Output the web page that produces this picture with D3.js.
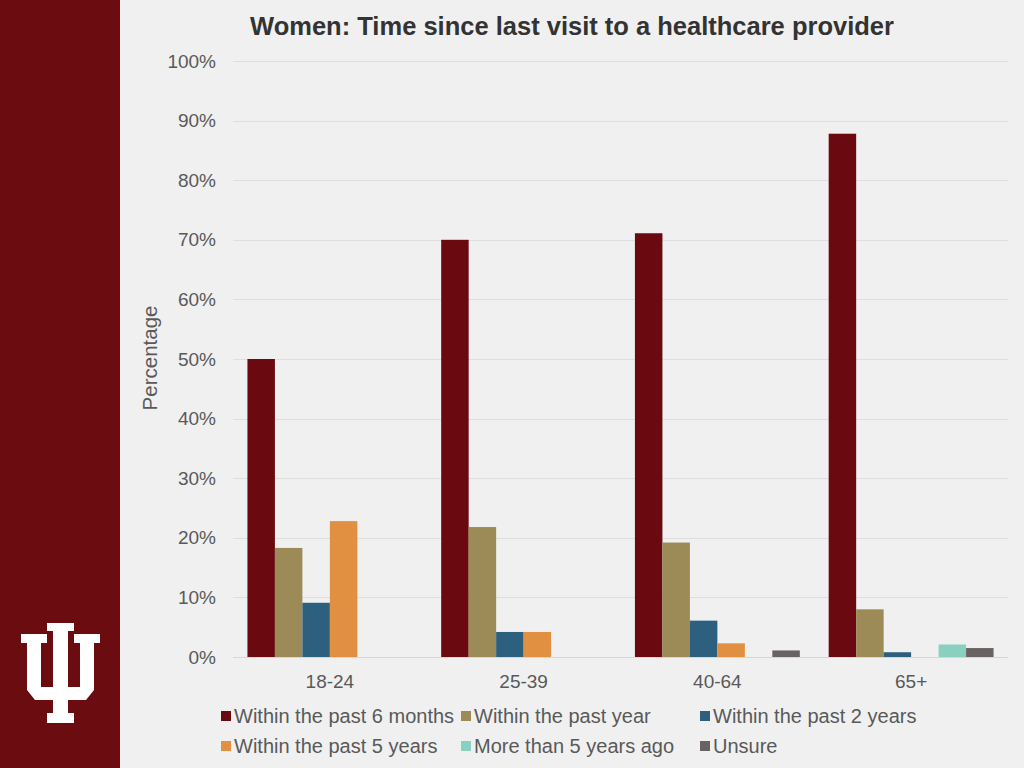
<!DOCTYPE html>
<html><head><meta charset="utf-8">
<script src="https://cdn.jsdelivr.net/npm/d3@7"></script>
<style>html,body{margin:0;padding:0;background:#f0f0f0;}svg{display:block;font-family:"Liberation Sans",Arial,sans-serif;}</style>
</head><body>
<svg id="c" width="1024" height="768"></svg>
<script>
const categories = ["18-24", "25-39", "40-64", "65+"];
const seriesNames = ["Within the past 6 months", "Within the past year", "Within the past 2 years", "Within the past 5 years", "More than 5 years ago", "Unsure"];
const s6months = [50.0, 70.0, 71.1, 87.8];
const sYear = [18.3, 21.8, 19.2, 8.0];
const s2years = [9.1, 4.2, 6.1, 0.8];
const s5years = [22.8, 4.2, 2.3, 0];
const sMore5 = [0, 0, 0, 2.1];
const sUnsure = [0, 0, 1.1, 1.5];
const seriesValues = [s6months, sYear, s2years, s5years, sMore5, sUnsure];
const colors = ["#6a0a10", "#9c8a57", "#2d5f7f", "#e09040", "#8ad0c0", "#686262"];
const yTicks = [0, 10, 20, 30, 40, 50, 60, 70, 80, 90, 100];

const svg = d3.select("#c");
svg.append("rect").attr("width", 1024).attr("height", 768).attr("fill", "#f0f0f0");
svg.append("rect").attr("width", 120).attr("height", 768).attr("fill", "#6a0c10");

// IU logo
svg.append("path").attr("fill", "#ffffff").attr("d",
  "M47,623L74,623L74,631L68,631L68,687L80,687L80,643L74,643L74,634L100,634L100,643L94,643L94,690L86,700L68,700L68,713L74,713L74,723L47,723L47,713L53,713L53,700L35,700L27,690L27,643L21,643L21,634L47,634L47,643L41,643L41,687L53,687L53,631L47,631Z");

const x0 = d3.scaleBand().domain(categories).range([233, 1008]).paddingInner(0.149).paddingOuter(0.0745);
const x1 = d3.scaleBand().domain(d3.range(seriesNames.length)).range([0, x0.bandwidth()]);
const y = d3.scaleLinear().domain([0, 100]).range([657, 61]);

// gridlines
svg.append("g").selectAll("line").data(yTicks).join("line")
  .attr("x1", 233).attr("x2", 1008)
  .attr("y1", d => Math.round(y(d)) + 0.5).attr("y2", d => Math.round(y(d)) + 0.5)
  .attr("stroke", d => d === 0 ? "#d6d6d6" : "#dedede").attr("stroke-width", 1);

// y axis
const yAxis = d3.axisLeft(y).tickValues(yTicks).tickFormat(d => d + "%").tickSize(0).tickPadding(0);
const gy = svg.append("g").attr("transform", "translate(216,0)").call(yAxis);
gy.select(".domain").remove();
gy.selectAll("text").attr("font-size", 19).attr("fill", "#595959").attr("font-family", "Liberation Sans, Arial, sans-serif");

// x axis
const xAxis = d3.axisBottom(x0).tickSize(0).tickPadding(0);
const gx = svg.append("g").attr("transform", "translate(0,674)").call(xAxis);
gx.select(".domain").remove();
gx.selectAll("text").attr("font-size", 19).attr("fill", "#595959").attr("font-family", "Liberation Sans, Arial, sans-serif");

// bars
seriesValues.forEach((vals, si) => {
  svg.append("g").selectAll("rect").data(vals.map((v, ci) => ({v, c: categories[ci]}))).join("rect")
    .attr("x", d => x0(d.c) + x1(si))
    .attr("width", x1.bandwidth())
    .attr("y", d => y(d.v))
    .attr("height", d => y(0) - y(d.v))
    .attr("fill", colors[si]);
});

// title
svg.append("text").attr("x", 572).attr("y", 35).attr("text-anchor", "middle")
  .attr("font-size", 25.5).attr("font-weight", "bold").attr("fill", "#333333")
  .text("Women: Time since last visit to a healthcare provider");

// y label
svg.append("text").attr("transform", "translate(157,358) rotate(-90)").attr("text-anchor", "middle")
  .attr("font-size", 20.5).attr("fill", "#595959").text("Percentage");

// legend
const legX = [221, 461, 700];
const legY = [716, 746];
const lg = svg.append("g").selectAll("g").data(seriesNames).join("g")
  .attr("transform", (d, i) => `translate(${legX[i % 3]},${legY[Math.floor(i / 3)]})`);
lg.append("rect").attr("x", 0).attr("y", -5).attr("width", 10).attr("height", 10).attr("fill", (d, i) => colors[i]);
lg.append("text").attr("x", 13).attr("y", 7).attr("font-size", 20).attr("fill", "#595959").text(d => d);
</script>
</body></html>
